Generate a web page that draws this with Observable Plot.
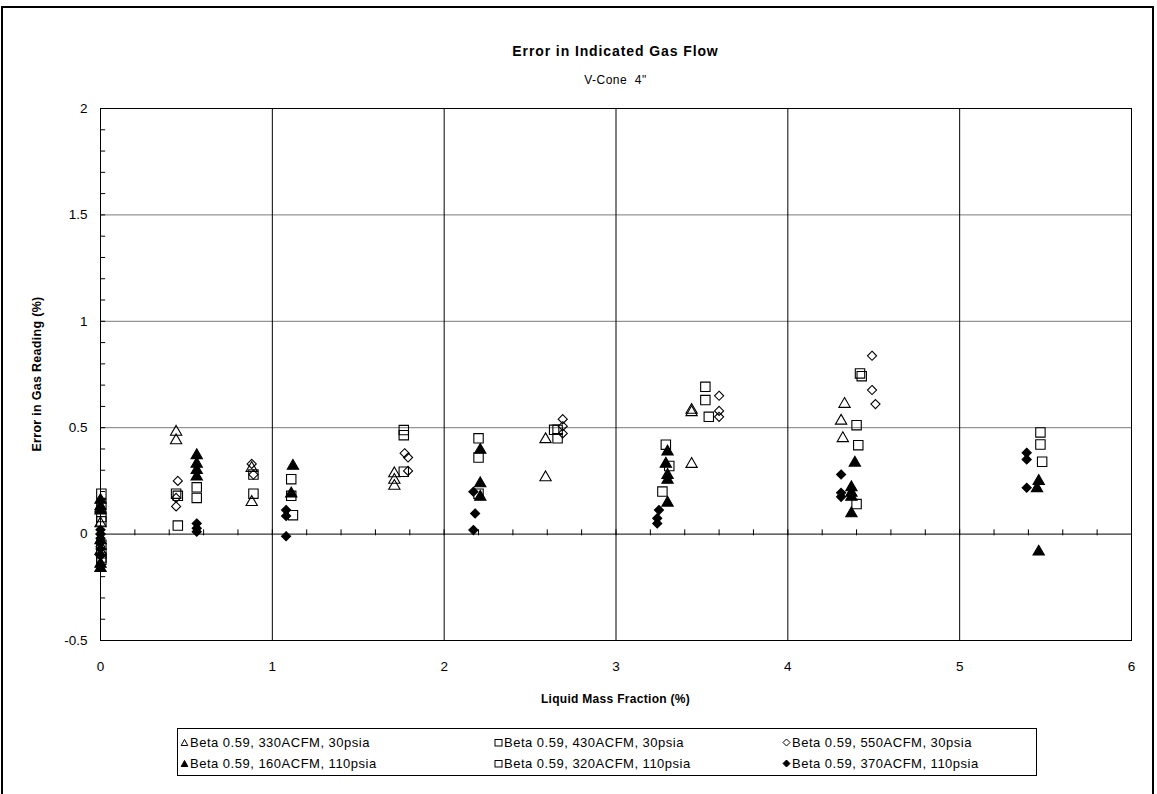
<!DOCTYPE html>
<html>
<head>
<meta charset="utf-8">
<script src="https://cdn.jsdelivr.net/npm/d3@7"></script>
<script src="https://cdn.jsdelivr.net/npm/@observablehq/plot@0.6"></script>
<style>
  body { margin: 0; background: #fff; font-family: "Liberation Sans", Arial, sans-serif; }
  #wrap { position: relative; width: 1157px; height: 794px; overflow: hidden; }
  #border { position: absolute; left: 1px; top: 6px; width: 1153px; height: 800px; border: 2px solid #000; box-sizing: border-box; }
  .abs { position: absolute; white-space: pre; color: #000; }
  #title { left: 0; width: 1231px; top: 43px; text-align: center; font-size: 14px; font-weight: bold; letter-spacing: 0.9px; }
  #subtitle { left: 0; width: 1231px; top: 73px; text-align: center; font-size: 12px; letter-spacing: 0.5px; }
  #xtitle { left: 0; width: 1231px; top: 692px; text-align: center; font-size: 12px; font-weight: bold; letter-spacing: 0.3px; }
  #ytitle { left: 37px; top: 374px; transform: translate(-50%, -50%) rotate(-90deg); font-size: 12.5px; font-weight: bold; letter-spacing: 0.3px; }
  #legend { position: absolute; left: 177px; top: 728px; width: 860px; height: 48px; border: 1px solid #000; box-sizing: border-box; }
  .item { position: absolute; font-size: 13px; letter-spacing: 0.5px; display: flex; align-items: center; }
  .item svg { margin-right: 1px; }
  #chart { position: absolute; left: 0; top: 0; }
</style>
</head>
<body>
<div id="wrap">
  <div id="border"></div>
  <div id="chart"></div>
  <div class="abs" id="title">Error in Indicated Gas Flow</div>
  <div class="abs" id="subtitle">V-Cone  4"</div>
  <div class="abs" id="xtitle">Liquid Mass Fraction (%)</div>
  <div class="abs" id="ytitle">Error in Gas Reading (%)</div>
  <div id="legend"></div>
</div>
<script>
// ---- Data ----
const seriesNames = [
  "Beta 0.59, 330ACFM, 30psia",
  "Beta 0.59, 430ACFM, 30psia",
  "Beta 0.59, 550ACFM, 30psia",
  "Beta 0.59, 160ACFM, 110psia",
  "Beta 0.59, 320ACFM, 110psia",
  "Beta 0.59, 370ACFM, 110psia"
];

const s1x = [0,0,0,0, 0.44,0.44, 0.88,0.88, 1.71,1.71,1.71, 2.59,2.59, 3.44,3.44,3.44, 4.33,4.31,4.32];
const s1y = [0.12,0.05,-0.03,-0.08, 0.48,0.44, 0.31,0.15, 0.285,0.254,0.226, 0.445,0.266, 0.583,0.572,0.329, 0.611,0.532,0.45];

const s2x = [0.005,0.005,0.005,0.005, 0.44,0.45,0.45, 0.89,0.89, 1.765,1.765,1.765, 2.64,2.66,2.66, 3.52,3.52,3.54, 4.42,4.43,4.40];
const s2y = [0.19,0.06,-0.05,-0.12, 0.19,0.18,0.04, 0.28,0.19, 0.489,0.465,0.293, 0.49,0.49,0.45, 0.692,0.63,0.551, 0.755,0.742,0.512];

const s3x = [0,0,0, 0.45,0.44,0.44, 0.88,0.89, 1.77,1.79,1.79, 2.69,2.69,2.69, 3.6,3.6,3.6, 4.49,4.49,4.51];
const s3y = [0.0,-0.06,-0.1, 0.25,0.17,0.13, 0.33,0.28, 0.38,0.36,0.297, 0.54,0.507,0.473, 0.65,0.579,0.551, 0.838,0.677,0.611];

const s4x = [0,0,0,0,0, 0.56,0.56,0.56,0.56, 1.12,1.11, 2.21,2.21,2.21, 3.3,3.29,3.3,3.3,3.3, 4.39,4.37,4.37,4.37,4.37, 5.46,5.45,5.46];
const s4y = [0.16,0.13,0.11,-0.14,-0.16, 0.37,0.33,0.30,0.27, 0.32,0.19, 0.395,0.238,0.175, 0.387,0.33,0.277,0.254,0.147, 0.335,0.219,0.194,0.175,0.097, 0.249,0.215,-0.083];

const s5x = [0.005,0.005,0.005,0.005, 0.56,0.56, 1.11,1.11,1.12, 2.2,2.2,2.2, 3.29,3.31,3.27, 4.41,4.40, 5.47,5.47,5.48];
const s5y = [0.14,0.08,-0.09,-0.11, 0.22,0.17, 0.258,0.18,0.089, 0.45,0.36,0.19, 0.42,0.32,0.2, 0.418,0.141, 0.478,0.421,0.34];

const s6x = [0,0,0,0,0,0, 0.56,0.56,0.56, 1.08,1.08,1.08, 2.17,2.18,2.17, 3.25,3.24,3.24, 4.31,4.31,4.31, 5.39,5.39,5.39];
const s6y = [0.02,0.0,-0.02,-0.04,-0.07,-0.1, 0.05,0.027,0.011, 0.113,0.085,-0.01, 0.199,0.097,0.019, 0.113,0.074,0.05, 0.28,0.194,0.175, 0.382,0.351,0.218];

const xTicks = [0,1,2,3,4,5,6];
const yTicks = [-0.5,0,0.5,1,1.5,2];
const xGrid = [1,2,3,4,5];
const yGrid = [0.5,1,1.5];
const xMinor = d3.range(0, 6.001, 0.2).map(v => +v.toFixed(1));
const yMinor = d3.range(-0.5, 2.001, 0.1).map(v => +v.toFixed(1));

// ---- Styles per series ----
const styles = [
  {symbol: "triangle", fill: "none", stroke: "#000", r: 4.2},
  {symbol: "square", fill: "none", stroke: "#000", r: 5.3},
  {symbol: "diamond2", fill: "none", stroke: "#000", r: 4.1},
  {symbol: "triangle", fill: "#000", stroke: "#000", r: 4.2},
  {symbol: "square", fill: "none", stroke: "#000", r: 5.3},
  {symbol: "diamond2", fill: "#000", stroke: "#000", r: 4.1}
];
const xs = [s1x, s2x, s3x, s4x, s5x, s6x];
const ys = [s1y, s2y, s3y, s4y, s5y, s6y];
const tables = xs.map((arr, i) => arr.map((x, j) => ({x, y: ys[i][j], series: seriesNames[i]})));

const dotMarks = tables.map((t, i) => Plot.dot(t, {
  x: "x", y: "y", symbol: () => styles[i].symbol, r: styles[i].r,
  fill: styles[i].fill, stroke: styles[i].stroke, strokeWidth: 1.1
}));

const chart = Plot.plot({
  width: 1157,
  height: 720,
  marginLeft: 100,
  marginRight: 26,
  marginTop: 108,
  marginBottom: 80,
  style: {fontFamily: "'Liberation Sans', Arial, sans-serif", fontSize: "13.5px", background: "transparent", overflow: "visible", color: "#000"},
  x: {domain: [0, 6]},
  y: {domain: [-0.5, 2]},
  symbol: {type: "identity"},
  marks: [
    Plot.ruleY(yGrid, {stroke: "#7a7a7a", strokeWidth: 1}),
    Plot.ruleX(xGrid, {stroke: "#000", strokeWidth: 1}),
    Plot.ruleY([0], {stroke: "#000", strokeWidth: 1}),
    Plot.ruleX(xMinor, {y1: -0.008, y2: 0.02, stroke: "#000"}),
    Plot.ruleY(yMinor, {x1: 0, x2: 0.03, stroke: "#000"}),
    Plot.frame({stroke: "#000", strokeWidth: 1}),
    Plot.axisX({ticks: xTicks, tickSize: 0, tickPadding: 21, tickFormat: d => String(d), label: null, anchor: "bottom"}),
    Plot.axisY({ticks: yTicks, tickSize: 0, tickPadding: 13, tickFormat: d => String(d), label: null, anchor: "left"}),
    ...dotMarks
  ]
});
d3.select(chart).selectAll("text").style("font-size", "13.5px").style("font-family", "'Liberation Sans', Arial, sans-serif");
document.getElementById("chart").appendChild(chart);

// ---- Legend ----
const legend = document.getElementById("legend");
const pos = [[2, 6], [316, 6], [604, 6], [2, 27], [316, 27], [604, 27]];
function markerSVG(st) {
  const s = 9;
  let shape;
  const f = st.fill === "none" ? "none" : st.fill;
  if (st.symbol === "triangle") shape = `<polygon points="4.5,1.5 7.8,7.5 1.2,7.5" fill="${f}" stroke="#000" stroke-width="1"/>`;
  else if (st.symbol === "square") shape = `<rect x="1" y="1.5" width="7" height="6.5" fill="${f}" stroke="#000" stroke-width="1"/>`;
  else shape = `<polygon points="4.5,1 8,4.5 4.5,8 1,4.5" fill="${f}" stroke="#000" stroke-width="1"/>`;
  return `<svg width="${s}" height="${s}" viewBox="0 0 9 9">${shape}</svg>`;
}
seriesNames.forEach((name, i) => {
  const d = document.createElement("div");
  d.className = "item";
  d.style.left = pos[i][0] + "px";
  d.style.top = pos[i][1] + "px";
  d.innerHTML = markerSVG(styles[i]) + `<span>${name}</span>`;
  legend.appendChild(d);
});
</script>
</body>
</html>
